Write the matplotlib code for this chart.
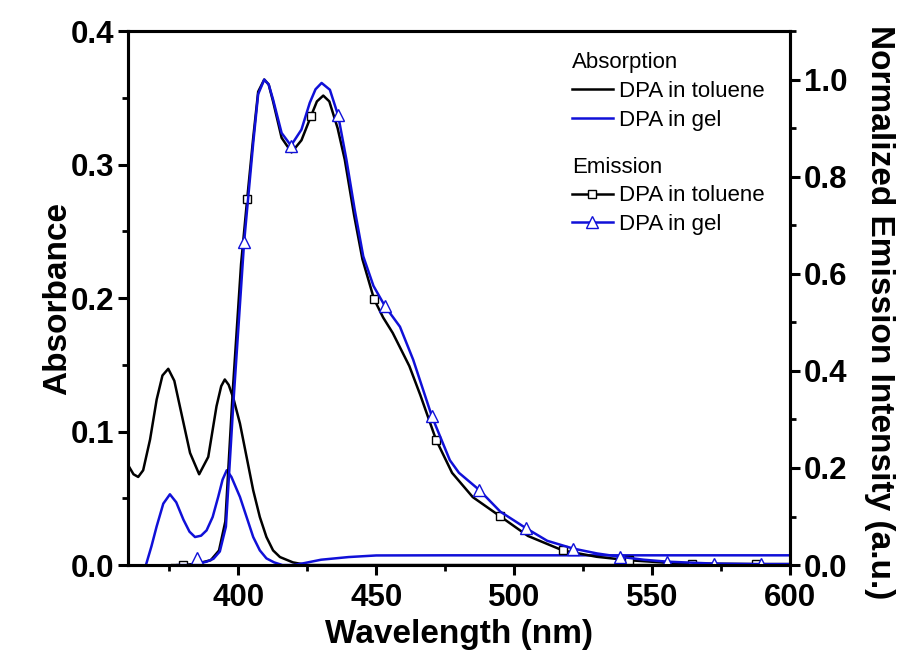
import numpy as np
import matplotlib
matplotlib.use("Agg")
import matplotlib.pyplot as plt
from matplotlib.lines import Line2D
from matplotlib.ticker import MultipleLocator

plt.rcParams["font.family"] = ["Liberation Sans", "DejaVu Sans"]

# -------------------------
# Absorption spectra (left axis)
# -------------------------
abs_tol_wl = [360, 362, 363.7, 365.5, 368, 370.4, 372.5, 374.6, 376.8, 378.8, 382.5,
              385.8, 389.1, 392.1, 393.8, 395.1, 396.5, 398.2, 400.6, 403, 405.4,
              407.8, 410.2, 412.6, 415.1, 419.8, 425, 450, 500, 550, 600]
abs_tol = [0.075, 0.068, 0.066, 0.071, 0.094, 0.124, 0.142, 0.147, 0.138, 0.119, 0.084,
           0.068, 0.081, 0.119, 0.134, 0.139, 0.135, 0.125, 0.106, 0.081, 0.056,
           0.036, 0.021, 0.011, 0.006, 0.002, 0.0, 0.0, 0.0, 0.0, 0.0]

abs_gel_wl = [364, 366.5, 368.5, 370.4, 372.8, 375.2, 377.5, 380.1, 382.3, 384.3, 386.5,
              388.5, 390.7, 392.7, 394.3, 395.8, 397.5, 400.6, 403, 405.4, 407.8,
              410.2, 413, 416, 420, 424, 430, 440, 450, 475, 500, 525, 550, 575, 600]
abs_gel = [-0.008, 0.0, 0.014, 0.029, 0.046, 0.053, 0.047, 0.034, 0.025, 0.021, 0.022,
           0.026, 0.036, 0.051, 0.064, 0.071, 0.066, 0.051, 0.036, 0.021, 0.011,
           0.005, 0.002, 0.0, 0.0, 0.0015, 0.004, 0.006, 0.0072, 0.0073, 0.0073,
           0.0073, 0.0073, 0.0073, 0.0073]

# -------------------------
# Normalized emission spectra (right axis)
# -------------------------
em_tol_wl = [376, 380, 385, 390, 393, 395.3, 398, 401, 403.2, 405.4, 407.2, 409.4, 411,
             412.6, 415.7, 419.3, 422.9, 426.3, 428.5, 430.8, 433, 436, 438.6, 442, 445,
             449.2, 452.5, 456, 462, 466, 471.7, 477.5, 485, 494.8, 505, 517.7, 530,
             541.5, 555, 564.6, 587.8, 600]
em_tol = [0.0, 0.0, 0.003, 0.010, 0.030, 0.090, 0.360, 0.620, 0.753, 0.880, 0.975, 1.0, 0.99,
          0.955, 0.880, 0.850, 0.875, 0.924, 0.955, 0.967, 0.955, 0.900, 0.835, 0.720, 0.630,
          0.548, 0.510, 0.478, 0.410, 0.350, 0.258, 0.190, 0.140, 0.101, 0.060, 0.030, 0.017,
          0.010, 0.005, 0.003, 0.002, 0.002]
em_tol_marks = [380, 403.2, 426.3, 449.2, 471.7, 494.8, 517.7, 541.5, 564.6, 587.8]

em_gel_wl = [378, 383.5, 385, 386.3, 388.5, 391, 393.3, 395.5, 398.2, 402.1, 405.4, 407.2,
             409.4, 411, 412.6, 415.7, 419.1, 422.9, 425.9, 428, 430.2, 433.2, 436.2,
             439.2, 442.2, 445.3, 449, 453.2, 458.6, 463.4, 470.2, 476.7, 480, 487.3, 495,
             504.3, 512, 521.4, 530, 538.4, 547, 555.5, 572.5, 589.6, 600]
em_gel = [0.0, 0.0, 0.015, 0.004, 0.007, 0.013, 0.028, 0.079, 0.333, 0.665, 0.869, 0.970,
          1.0, 0.99, 0.959, 0.890, 0.864, 0.897, 0.952, 0.980, 0.993, 0.979, 0.926,
          0.835, 0.732, 0.636, 0.575, 0.533, 0.491, 0.423, 0.306, 0.216, 0.190, 0.155, 0.110,
          0.076, 0.050, 0.034, 0.024, 0.017, 0.011, 0.007, 0.003, 0.002, 0.002]
em_gel_marks = [385, 402.1, 419.1, 436.2, 453.2, 470.2, 487.3, 504.3, 521.4, 538.4, 555.5,
                572.5, 589.6]

BLUE = "#1010d8"
TICK_FS = 22.5
LABEL_FS = 24
LEG_FS = 16


def marker_index(wl, marks):
    return [wl.index(m) for m in marks]


def plot_spectra():
    fig = plt.figure(figsize=(9.09, 6.64), dpi=100)
    ax = fig.add_axes([0.1408, 0.149, 0.7282, 0.8043])
    ax2 = ax.twinx()

    ax.plot(abs_tol_wl, abs_tol, color="black", lw=1.8)
    ax.plot(abs_gel_wl, abs_gel, color=BLUE, lw=1.8)

    ax2.plot(em_tol_wl, em_tol, color="black", lw=1.8, marker="s", ms=6,
             mfc="white", mec="black", mew=1.0,
             markevery=marker_index(em_tol_wl, em_tol_marks))
    ax2.plot(em_gel_wl, em_gel, color=BLUE, lw=1.8, marker="^", ms=8,
             mfc="white", mec=BLUE, mew=1.0,
             markevery=marker_index(em_gel_wl, em_gel_marks))

    ax.set_xlim(360, 600)
    ax.set_ylim(0, 0.4)
    ax2.set_ylim(0, 1.1)

    ax.xaxis.set_major_locator(MultipleLocator(50))
    ax.xaxis.set_minor_locator(MultipleLocator(25))
    ax.yaxis.set_major_locator(MultipleLocator(0.1))
    ax.yaxis.set_minor_locator(MultipleLocator(0.05))
    ax2.yaxis.set_major_locator(MultipleLocator(0.2))
    ax2.yaxis.set_minor_locator(MultipleLocator(0.1))
    ax.yaxis.set_major_formatter(lambda v, p: f"{v:.1f}")
    ax2.yaxis.set_major_formatter(lambda v, p: f"{v:.1f}")

    for a in (ax, ax2):
        for s in a.spines.values():
            s.set_linewidth(2.2)
        a.tick_params(which="major", direction="out", length=7, width=2.2,
                      labelsize=TICK_FS, pad=3)
        a.tick_params(which="minor", direction="out", length=4.5, width=2.0)
        for lab in a.get_xticklabels() + a.get_yticklabels():
            lab.set_fontweight("bold")
    ax.tick_params(axis="x", which="both", top=False)
    ax.tick_params(axis="x", which="major", pad=6)

    ax.set_xlabel("Wavelength (nm)", fontsize=LABEL_FS, fontweight="bold", labelpad=4)
    ax.set_ylabel("Absorbance", fontsize=LABEL_FS, fontweight="bold", labelpad=-2)
    ax2.set_ylabel("Normalized Emission Intensity (a.u.)", fontsize=LABEL_FS,
                   fontweight="bold", rotation=270, labelpad=34)
    ax2.yaxis.label.set_y(0.474)

    abs_handles = [Line2D([], [], color="black", lw=1.8),
                   Line2D([], [], color=BLUE, lw=1.8)]
    em_handles = [Line2D([], [], color="black", lw=1.8, marker="s", ms=6,
                         mfc="white", mec="black", mew=1.0),
                  Line2D([], [], color=BLUE, lw=1.8, marker="^", ms=8,
                         mfc="white", mec=BLUE, mew=1.0)]
    labels = ["DPA in toluene", "DPA in gel"]

    leg_kw = dict(frameon=False, fontsize=LEG_FS, title_fontsize=LEG_FS,
                  alignment="left", loc="upper left", borderpad=0,
                  borderaxespad=0, handlelength=1.85, handletextpad=0.27,
                  labelspacing=0.35)
    leg1 = ax2.legend(abs_handles, labels, title="Absorption",
                      bbox_to_anchor=(0.629, 0.921), bbox_transform=fig.transFigure,
                      **leg_kw)
    ax2.add_artist(leg1)
    ax2.legend(em_handles, labels, title="Emission",
               bbox_to_anchor=(0.629, 0.764), bbox_transform=fig.transFigure,
               **leg_kw)

    fig.savefig("out.png", dpi=100)


if __name__ == "__main__":
    plot_spectra()
